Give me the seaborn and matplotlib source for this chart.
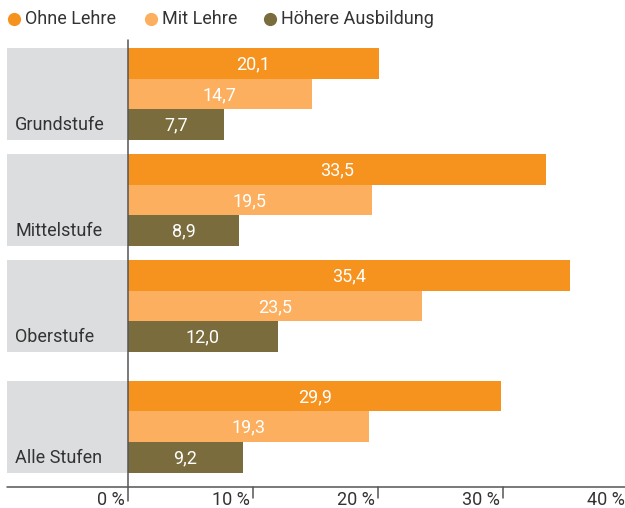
import matplotlib
matplotlib.use("Agg")
import matplotlib.pyplot as plt
from matplotlib.patches import Rectangle
import seaborn as sns
import pandas as pd

categories = ["Grundstufe", "Mittelstufe", "Oberstufe", "Alle Stufen"]
series = ["Ohne Lehre", "Mit Lehre", "Höhere Ausbildung"]
ohne_lehre = [20.1, 33.5, 35.4, 29.9]
mit_lehre = [14.7, 19.5, 23.5, 19.3]
hoehere = [7.7, 8.9, 12.0, 9.2]
x_ticks = [0, 10, 20, 30, 40]

colors = ["#F6921E", "#FBAF5F", "#7A6C3C"]
grey = "#DCDDDF"
text_c = "#333333"
line_c = "#555555"
fs = 13

sns.set_theme(style="white")
plt.rcParams["font.family"] = ["Roboto", "DejaVu Sans"]

# layout (pixel-like units on y)
bar_h = 30.6
group_tops = [48, 154, 260, 380.7]

rows = []
for gi, cat in enumerate(categories):
    for si, (s, vals) in enumerate(zip(series, [ohne_lehre, mit_lehre, hoehere])):
        rows.append({"cat": cat, "series": s, "value": vals[gi],
                     "ypos": group_tops[gi] + bar_h * (si + 0.5)})
df = pd.DataFrame(rows)

fig = plt.figure(figsize=(6.25, 5.08), dpi=100)
ax = fig.add_axes([0, 0, 1, 1])

px = 12.49  # pixels per percent
x0 = -128 / px
x1 = (625 - 128) / px


def pxx(p):
    return x0 + p / px


# grey panels + category labels
for gi, cat in enumerate(categories):
    ax.add_patch(Rectangle((pxx(7), group_tops[gi]), -pxx(7), bar_h * 3,
                           facecolor=grey, edgecolor="none", zorder=0))
    ax.text(pxx(15), group_tops[gi] + bar_h * 2.5 + 1, cat, ha="left", va="center",
            fontsize=fs, color=text_c, zorder=3)

sns.barplot(data=df, x="value", y="ypos", hue="series", orient="h", native_scale=True,
            dodge=False, width=1.0, palette=colors, hue_order=series, ax=ax,
            legend=False, saturation=1, linewidth=0, errorbar=None)

for _, r in df.iterrows():
    ax.text(r["value"] / 2, r["ypos"] + 1, f"{r['value']:.1f}".replace(".", ","),
            ha="center", va="center", color="white", fontsize=fs, zorder=4)

# axis lines
ax.plot([0, 0], [40, 501], color=line_c, lw=1.1, zorder=5)
ax.plot([pxx(7), x1], [487, 487], color=line_c, lw=1.1, zorder=5)
for t in x_ticks[1:]:
    ax.plot([t, t], [487, 498], color=line_c, lw=1.1, zorder=5)
for t in x_ticks:
    ax.text(t - 0.25, 500, f"{t} %", ha="right", va="center", fontsize=fs, color=text_c)

# legend (manual, top-left)
leg_dot_px = [14, 151, 270]
for s, c, dx in zip(series, colors, leg_dot_px):
    ax.plot([pxx(dx)], [19], marker="o", markersize=9.5, color=c, markeredgewidth=0,
            linestyle="none", clip_on=False)
    ax.text(pxx(dx + 11), 19.5, s, ha="left", va="center", fontsize=fs, color=text_c)

ax.set_xlim(x0, x1)
ax.set_ylim(508, 0)
ax.axis("off")

fig.savefig("out.png", dpi=100)
